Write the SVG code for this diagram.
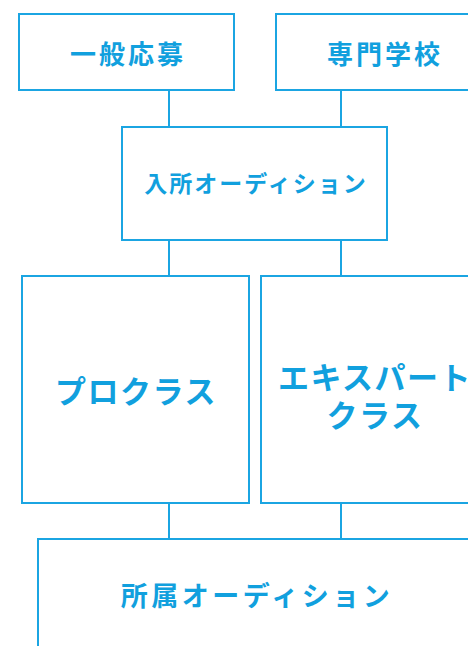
<svg xmlns="http://www.w3.org/2000/svg" width="468" height="646" viewBox="0 0 468 646">
<style>
.box{fill:#fff;stroke:#1ba5e2;stroke-width:2}
.ln{stroke:#1ba5e2;stroke-width:2;fill:none}
text{font-family:"Noto Sans CJK JP","Noto Sans",sans-serif;font-weight:bold;fill:#11a0de;text-anchor:middle;dominant-baseline:central}
.t1{font-size:26px;letter-spacing:3px}
.t2{font-size:23px;letter-spacing:2px}
.t3{font-size:31px;letter-spacing:1.5px}
.t4{font-size:27px;letter-spacing:3.5px}
</style>
<rect width="468" height="646" fill="#fff"/>
<g id="connectors">
<line class="ln" x1="169" y1="90" x2="169" y2="127"/>
<line class="ln" x1="341" y1="90" x2="341" y2="127"/>
<line class="ln" x1="169" y1="240" x2="169" y2="276"/>
<line class="ln" x1="341" y1="240" x2="341" y2="276"/>
<line class="ln" x1="169" y1="503" x2="169" y2="539"/>
<line class="ln" x1="341" y1="503" x2="341" y2="539"/>
</g>
<g id="general">
<rect class="box" x="19" y="14" width="215" height="76"/>
<text class="t1" x="128" y="52">一般応募</text>
</g>
<g id="school">
<rect class="box" x="276" y="14" width="215" height="76"/>
<text class="t1" x="385" y="52">専門学校</text>
</g>
<g id="entry">
<rect class="box" x="122" y="127" width="265" height="113"/>
<text class="t2" x="256" y="182">入所オーディション</text>
</g>
<g id="pro">
<rect class="box" x="22" y="276" width="227" height="227"/>
<text class="t3" x="136" y="389">プロクラス</text>
</g>
<g id="expert">
<rect class="box" x="261" y="276" width="227" height="227"/>
<text class="t3" x="375" y="375">エキスパート</text>
<text class="t3" x="375" y="413">クラス</text>
</g>
<g id="affiliation">
<rect class="box" x="38" y="539" width="434" height="120"/>
<text class="t4" x="257" y="594">所属オーディション</text>
</g>
</svg>
